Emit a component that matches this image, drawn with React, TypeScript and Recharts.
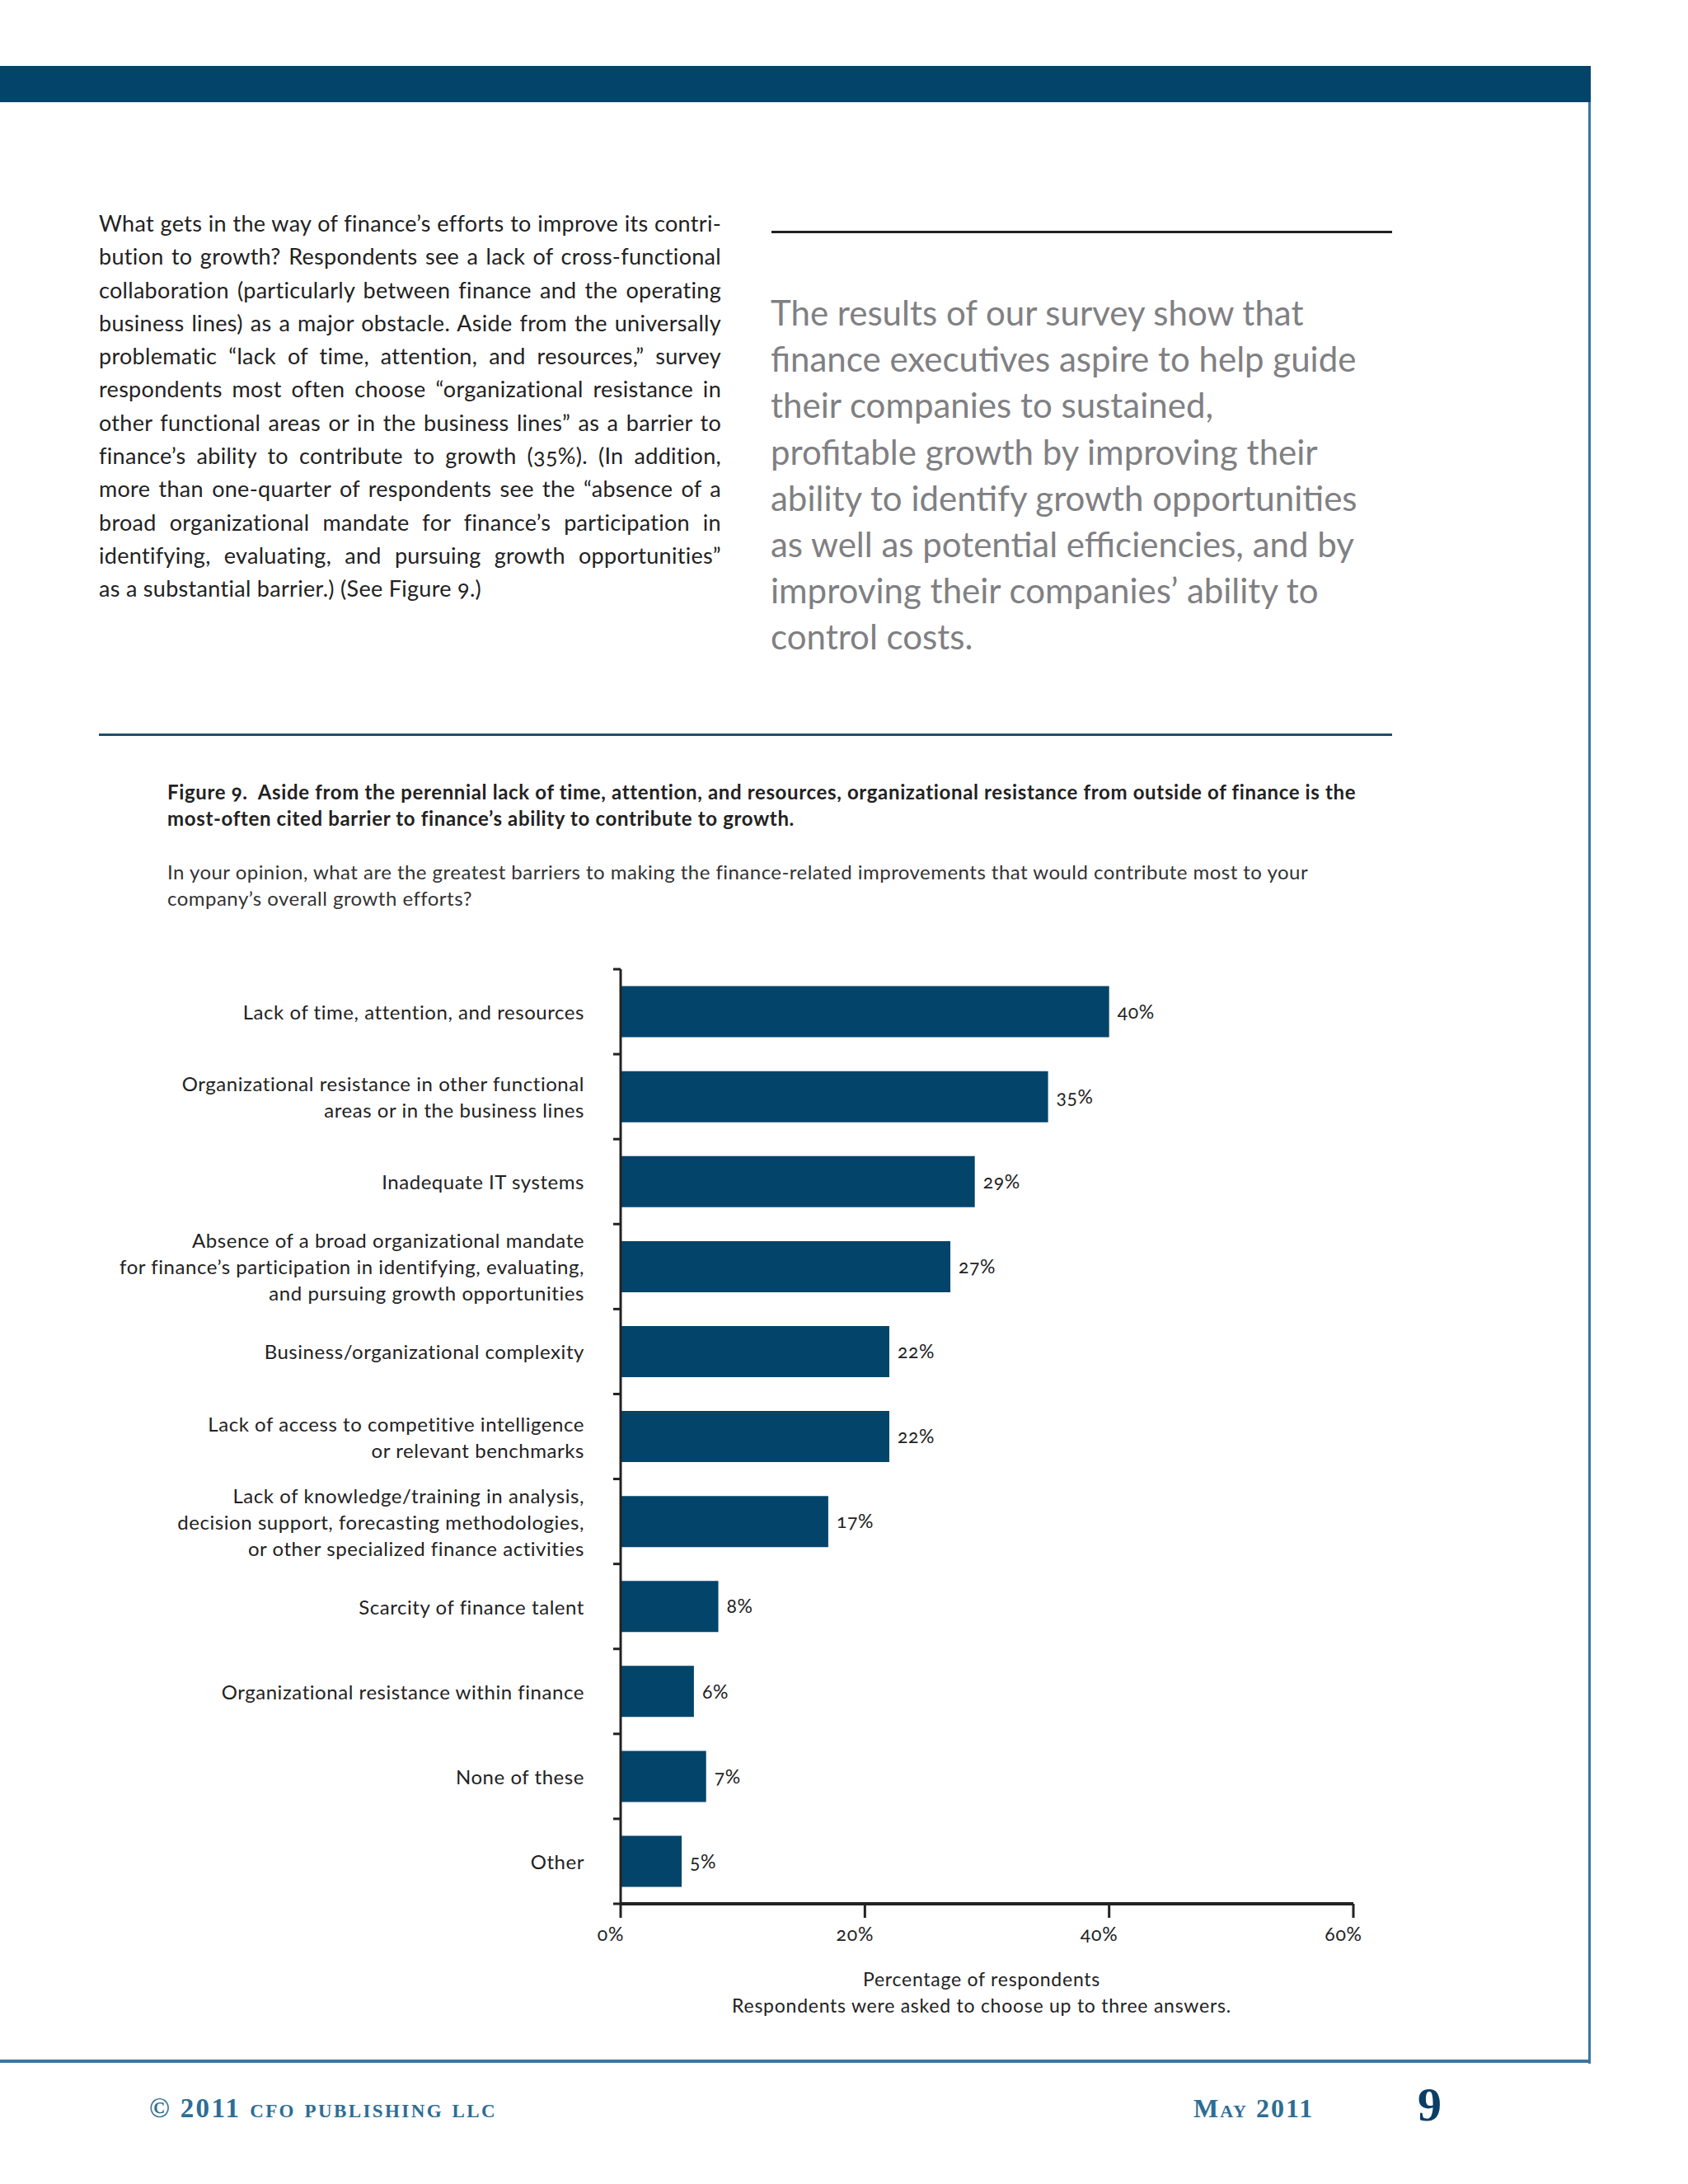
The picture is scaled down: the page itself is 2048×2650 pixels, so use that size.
import { BarChart, Bar, XAxis, YAxis, LabelList } from 'recharts';

const categories = [
  'Lack of time, attention, and resources',
  'Organizational resistance in other functional\nareas or in the business lines',
  'Inadequate IT systems',
  'Absence of a broad organizational mandate\nfor finance’s participation in identifying, evaluating,\nand pursuing growth opportunities',
  'Business/organizational complexity',
  'Lack of access to competitive intelligence\nor relevant benchmarks',
  'Lack of knowledge/training in analysis,\ndecision support, forecasting methodologies,\nor other specialized finance activities',
  'Scarcity of finance talent',
  'Organizational resistance within finance',
  'None of these',
  'Other',
];
const shares = [40, 35, 29, 27, 22, 22, 17, 8, 6, 7, 5];
const xTicks = [0, 20, 40, 60];

const bodyLines = [
  'What gets in the way of finance’s efforts to improve its contri-',
  'bution to growth? Respondents see a lack of cross-functional',
  'collaboration (particularly between finance and the operating',
  'business lines) as a major obstacle. Aside from the universally',
  'problematic “lack of time, attention, and resources,” survey',
  'respondents most often choose “organizational resistance in',
  'other functional areas or in the business lines” as a barrier to',
  'finance’s ability to contribute to growth (35%). (In addition,',
  'more than one-quarter of respondents see the “absence of a',
  'broad organizational mandate for finance’s participation in',
  'identifying, evaluating, and pursuing growth opportunities”',
  'as a substantial barrier.) (See Figure 9.)',
];

const quoteLines = [
  'The results of our survey show that',
  'finance executives aspire to help guide',
  'their companies to sustained,',
  'profitable growth by improving their',
  'ability to identify growth opportunities',
  'as well as potential efficiencies, and by',
  'improving their companies’ ability to',
  'control costs.',
];

const data = categories.map((name, i) => ({ name, share: shares[i] }));

const NAVY = '#03446a';
const FRAME = '#3f74a0';
const INK = '#222';
const SANS = 'Lato, "Open Sans", sans-serif';

const TICK_SIZE = 9;
const TICK_MARGIN = 35;

const CategoryTick = (props: any) => {
  const { x, y, payload, index } = props;
  const axisX = x + TICK_SIZE + TICK_MARGIN;
  const half = payload.offset ?? 51.5;
  const lines = String(payload.value).split('\n');
  const lh = 32;
  const start = -((lines.length - 1) * lh) / 2;
  return (
    <g>
      <line x1={axisX - TICK_SIZE} x2={axisX} y1={y - half} y2={y - half} stroke={INK} strokeWidth={3} />
      {index === categories.length - 1 && (
        <line x1={axisX - TICK_SIZE} x2={axisX} y1={y + half} y2={y + half} stroke={INK} strokeWidth={3} />
      )}
      <text x={x} y={y} textAnchor="end" fontFamily={SANS} fontSize={24} letterSpacing={0.55} fill={INK}>
        {lines.map((l, i) => (
          <tspan key={i} x={x} y={y + start + i * lh} dominantBaseline="central">
            {l}
          </tspan>
        ))}
      </text>
    </g>
  );
};

const PctTick = (props: any) => {
  const { x, y, payload } = props;
  return (
    <text
      x={x - 12}
      y={y}
      dy={16}
      textAnchor="middle"
      fontFamily={SANS}
      fontSize={23}
      letterSpacing={0.8}
      fill={INK}
      style={{ fontVariantNumeric: 'oldstyle-nums' }}
    >
      {`${payload.value}%`}
    </text>
  );
};

export default function App() {
  return (
    <div
      style={{
        position: 'relative',
        width: 2048,
        height: 2650,
        background: '#fff',
        fontFamily: SANS,
        fontVariantNumeric: 'oldstyle-nums',
        overflow: 'hidden',
      }}
    >
      <style>{'body{margin:0}'}</style>

      {/* header band and page frame */}
      <div style={{ position: 'absolute', left: 0, top: 80, width: 1930, height: 44, background: NAVY }} />
      <div style={{ position: 'absolute', left: 1927, top: 124, width: 3, height: 2380, background: FRAME }} />
      <div style={{ position: 'absolute', left: 0, top: 2499, width: 1930, height: 4, background: FRAME }} />

      {/* body copy */}
      <div
        style={{
          position: 'absolute',
          left: 120,
          top: 251,
          width: 755,
          fontSize: 27,
          letterSpacing: 0.3,
          lineHeight: '40.3px',
          color: INK,
        }}
      >
        {bodyLines.map((l, i) => (
          <div
            key={i}
            style={{
              whiteSpace: 'nowrap',
              textAlign: 'justify',
              textAlignLast: i === bodyLines.length - 1 ? 'left' : 'justify',
            }}
          >
            {l}
          </div>
        ))}
      </div>

      {/* pull quote */}
      <div style={{ position: 'absolute', left: 936, top: 280, width: 753, height: 3, background: INK }} />
      <div style={{ position: 'absolute', left: 935, top: 351, fontSize: 42, lineHeight: '56.2px', color: '#7f8083' }}>
        {quoteLines.map((l, i) => (
          <div key={i} style={{ whiteSpace: 'nowrap' }}>{l}</div>
        ))}
      </div>

      <div style={{ position: 'absolute', left: 120, top: 890, width: 1569, height: 3, background: '#1f4e6e' }} />

      {/* figure title */}
      <div
        style={{
          position: 'absolute',
          left: 203,
          top: 945,
          fontSize: 24,
          letterSpacing: 0.65,
          lineHeight: '32px',
          fontWeight: 700,
          color: INK,
        }}
      >
        <div style={{ whiteSpace: 'nowrap' }}>
          Figure 9.&nbsp; Aside from the perennial lack of time, attention, and resources, organizational resistance from outside of finance is the
        </div>
        <div style={{ whiteSpace: 'nowrap' }}>most-often cited barrier to finance’s ability to contribute to growth.</div>
      </div>
      <div
        style={{
          position: 'absolute',
          left: 203,
          top: 1042,
          fontSize: 24,
          letterSpacing: 0.47,
          lineHeight: '32px',
          color: '#333',
        }}
      >
        <div style={{ whiteSpace: 'nowrap' }}>
          In your opinion, what are the greatest barriers to making the finance-related improvements that would contribute most to your
        </div>
        <div style={{ whiteSpace: 'nowrap' }}>company’s overall growth efforts?</div>
      </div>

      {/* chart */}
      <div style={{ position: 'absolute', left: 0, top: 1150 }}>
        <BarChart
          width={1800}
          height={1240}
          data={data}
          layout="vertical"
          margin={{ top: 26, right: 158, left: 0, bottom: 20 }}
          barCategoryGap="20%"
        >
          <XAxis
            type="number"
            domain={[0, 60]}
            ticks={xTicks}
            height={60}
            tick={<PctTick />}
            tickSize={17}
            tickMargin={12}
            axisLine={{ stroke: INK, strokeWidth: 4 }}
            tickLine={{ stroke: INK, strokeWidth: 3 }}
          />
          <YAxis
            type="category"
            dataKey="name"
            width={753}
            interval={0}
            tick={<CategoryTick />}
            tickSize={TICK_SIZE}
            tickMargin={TICK_MARGIN}
            tickLine={false}
            axisLine={{ stroke: INK, strokeWidth: 3 }}
          />
          <Bar dataKey="share" fill={NAVY} isAnimationActive={false}>
            <LabelList
              dataKey="share"
              position="right"
              offset={10}
              formatter={(v: any) => `${v}%`}
              style={{ fontFamily: SANS, fontSize: 23, letterSpacing: 0.6, fill: INK, fontVariantNumeric: 'oldstyle-nums' }}
            />
          </Bar>
        </BarChart>
      </div>

      {/* axis caption */}
      <div
        style={{
          position: 'absolute',
          left: 791,
          width: 800,
          top: 2385,
          textAlign: 'center',
          fontSize: 23,
          letterSpacing: 0.75,
          lineHeight: '32px',
          color: INK,
        }}
      >
        <div>Percentage of respondents</div>
        <div>Respondents were asked to choose up to three answers.</div>
      </div>

      {/* footer */}
      <div
        style={{
          position: 'absolute',
          left: 181,
          top: 2540,
          fontFamily: '"Liberation Serif", serif',
          fontVariant: 'small-caps',
          fontWeight: 700,
          fontSize: 33,
          letterSpacing: 2.4,
          color: '#2d6d94',
          whiteSpace: 'nowrap',
        }}
      >
        © 2011 cfo publishing llc
      </div>
      <div
        style={{
          position: 'absolute',
          left: 1448,
          top: 2540,
          fontFamily: '"Liberation Serif", serif',
          fontVariant: 'small-caps',
          fontWeight: 700,
          fontSize: 32,
          letterSpacing: 2,
          color: '#2d6d94',
          whiteSpace: 'nowrap',
        }}
      >
        May 2011
      </div>
      <div
        style={{
          position: 'absolute',
          left: 1720,
          top: 2520,
          fontFamily: '"Liberation Serif", serif',
          fontWeight: 700,
          fontSize: 58,
          color: '#0b3e66',
        }}
      >
        9
      </div>
    </div>
  );
}
